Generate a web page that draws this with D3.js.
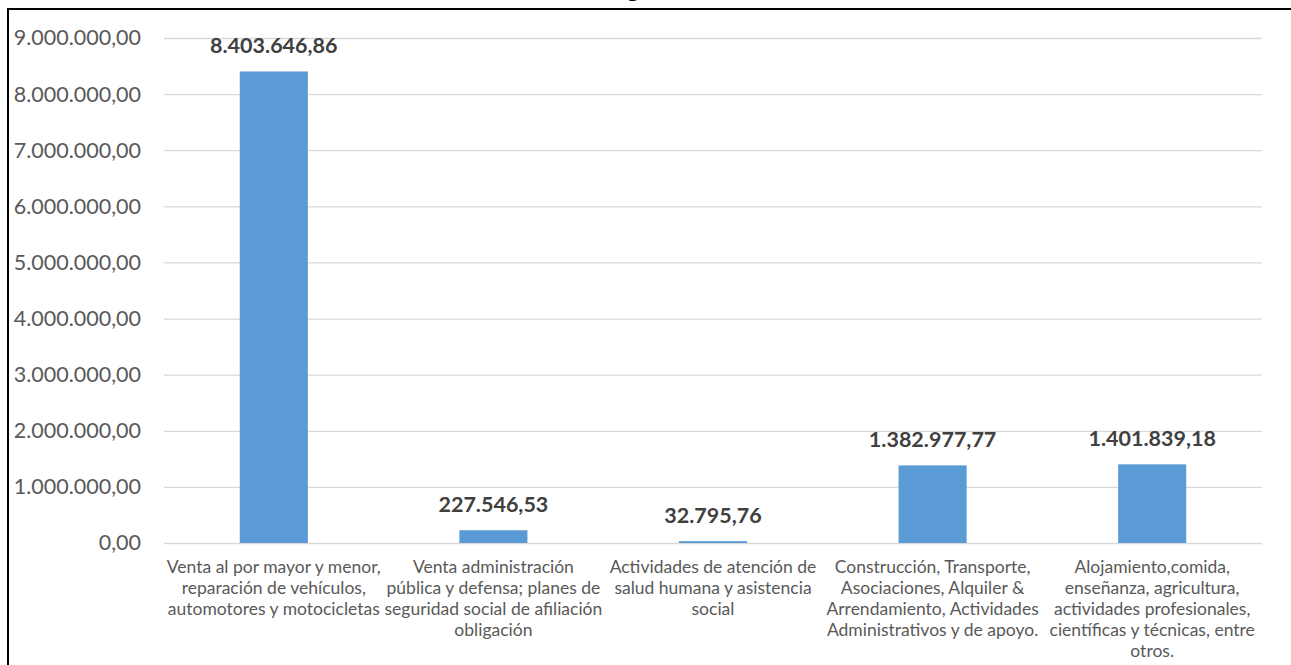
<!DOCTYPE html>
<html><head><meta charset="utf-8">
<script src="https://cdn.jsdelivr.net/npm/d3@7"></script>
<style>body{margin:0;background:#fff;} svg{display:block;}</style>
</head><body>
<svg id="c" width="1291" height="665"></svg>
<script>
const categories = [
  ["Venta al por mayor y menor,","reparación de vehículos,","automotores y motocicletas"],
  ["Venta administración","pública y defensa; planes de","seguridad social de afiliación","obligación"],
  ["Actividades de atención de","salud humana y asistencia","social"],
  ["Construcción, Transporte,","Asociaciones, Alquiler &","Arrendamiento, Actividades","Administrativos y de apoyo."],
  ["Alojamiento,comida,","enseñanza, agricultura,","actividades profesionales,","científicas y técnicas, entre","otros."]
];
const values = [8403646.86, 227546.53, 32795.76, 1382977.77, 1401839.18];
const valueLabels = ["8.403.646,86","227.546,53","32.795,76","1.382.977,77","1.401.839,18"];
const yTicks = [0,1000000,2000000,3000000,4000000,5000000,6000000,7000000,8000000,9000000];
const yTickLabels = ["0,00","1.000.000,00","2.000.000,00","3.000.000,00","4.000.000,00","5.000.000,00","6.000.000,00","7.000.000,00","8.000.000,00","9.000.000,00"];
const titleFragment = "g";

(function(){
const svg = d3.select("#c");
const font = "Lato, 'Open Sans', sans-serif";
const pL = 164, pR = 1262, pT = 38, pB = 543;

const x = d3.scaleBand().domain(d3.range(categories.length)).range([pL, pR]).paddingInner(0.69).paddingOuter(0.345);
const y = d3.scaleLinear().domain([0, 9000000]).range([pB, pT]);

// border
svg.append("line").attr("x1",8).attr("x2",1291).attr("y1",9).attr("y2",9).attr("stroke","#000").attr("stroke-width",2);
svg.append("line").attr("x1",8).attr("x2",8).attr("y1",8).attr("y2",665).attr("stroke","#000").attr("stroke-width",2);

// title fragment (cut off at top, as in the reference)
svg.append("text").attr("x",633).attr("y",-4).attr("text-anchor","middle")
  .attr("font-family","'Liberation Serif', serif").attr("font-weight","bold").attr("font-size",22)
  .attr("fill","#000").text(titleFragment);

// gridlines
const yAxis = d3.axisLeft(y).tickValues(yTicks).tickSize(-(pR-pL)).tickFormat((d,i)=>yTickLabels[i]).tickPadding(23);
const ga = svg.append("g").attr("transform",`translate(${pL},0)`).call(yAxis);
ga.select(".domain").remove();
ga.selectAll(".tick line").attr("stroke","#d9d9d9").attr("stroke-width",1.3);
ga.selectAll(".tick text").attr("font-family",font).attr("font-size",21.5).attr("fill","#595959");

// bars
svg.append("g").selectAll("rect").data(values).join("rect")
  .attr("x",(d,i)=>x(i)).attr("width",x.bandwidth())
  .attr("y",d=>y(d)).attr("height",d=>y(0)-y(d))
  .attr("fill","#5b9bd5");

// data labels
svg.append("g").selectAll("text").data(values).join("text")
  .attr("x",(d,i)=>x(i)+x.bandwidth()/2).attr("y",d=>y(d)-18)
  .attr("text-anchor","middle").attr("font-family",font).attr("font-weight","bold")
  .attr("font-size",21.5).attr("fill","#404040")
  .text((d,i)=>valueLabels[i]);

// category labels
const cg = svg.append("g");
categories.forEach((lines,i)=>{
  const t = cg.append("text").attr("text-anchor","middle").attr("font-family",font)
    .attr("font-size",17.5).attr("fill","#595959");
  lines.forEach((l,j)=>{
    t.append("tspan").attr("x",x(i)+x.bandwidth()/2).attr("y",573+j*21).text(l);
  });
});
})();
</script>
</body></html>
